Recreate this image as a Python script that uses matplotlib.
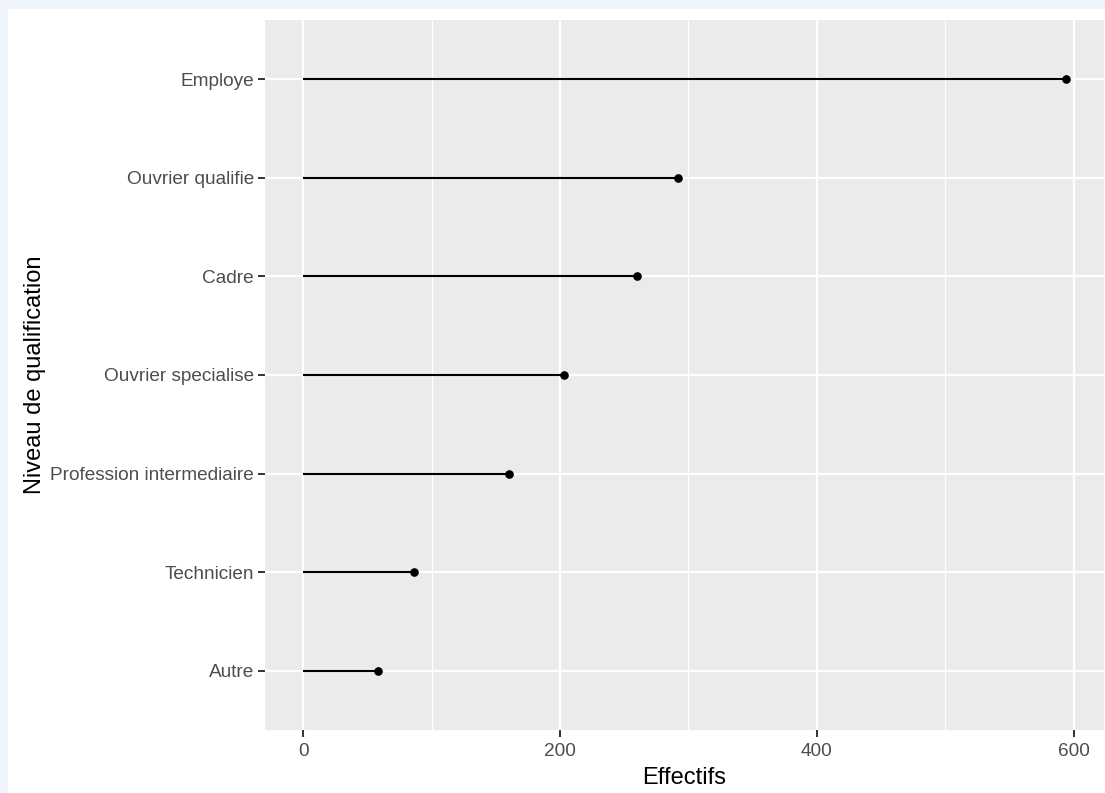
import matplotlib
matplotlib.use("Agg")
import matplotlib.pyplot as plt
from matplotlib.patches import Rectangle

# donnees
categories = ["Autre", "Technicien", "Profession intermediaire", "Ouvrier specialise",
              "Cadre", "Ouvrier qualifie", "Employe"]
effectifs = [58, 86, 160, 203, 260, 292, 594]
x_ticks = [0, 200, 400, 600]
x_minor = [100, 300, 500]

plt.rcParams['font.family'] = ['Liberation Sans', 'DejaVu Sans']

fig = plt.figure(figsize=(11.05, 7.93), dpi=100)
fig.patch.set_facecolor('#EDF4FC')
# fond blanc du graphique (bordure bleutee a gauche et en haut)
fig.patches.append(Rectangle((8 / 1105, 0), 1, 1 - 9 / 793, transform=fig.transFigure,
                             facecolor='white', edgecolor='none', zorder=-10))

ax = fig.add_axes([265 / 1105, 63 / 793, 839 / 1105, 710 / 793])
ax.set_facecolor('#EBEBEB')

ypos = list(range(len(categories)))
ax.hlines(ypos, 0, effectifs, color='black', linewidth=1.5, zorder=3)
ax.plot(effectifs, ypos, 'o', color='black', markersize=5.2, zorder=4)

rng = max(effectifs) - 0
ax.set_xlim(-0.05 * rng, max(effectifs) + 0.05 * rng)
ax.set_ylim(-0.6, len(categories) - 1 + 0.6)

ax.set_xticks(x_ticks)
ax.set_xticks(x_minor, minor=True)
ax.set_yticks(ypos)
ax.set_yticklabels(categories)

ax.grid(which='major', color='white', linewidth=1.6, zorder=1)
ax.grid(which='minor', axis='x', color='white', linewidth=0.8, zorder=1)
ax.set_axisbelow(True)
for s in ax.spines.values():
    s.set_visible(False)

ax.tick_params(which='major', length=5, width=1.4, color='#333333',
               labelcolor='#4D4D4D', labelsize=13.7, pad=3)
ax.tick_params(axis='x', pad=4)
ax.tick_params(which='minor', length=0)

ax.set_xlabel('Effectifs', fontsize=17, color='black', labelpad=5.5)
ax.set_ylabel('Niveau de qualification', fontsize=17, color='black', labelpad=3)

fig.savefig('out.png', dpi=100, facecolor=fig.get_facecolor())
